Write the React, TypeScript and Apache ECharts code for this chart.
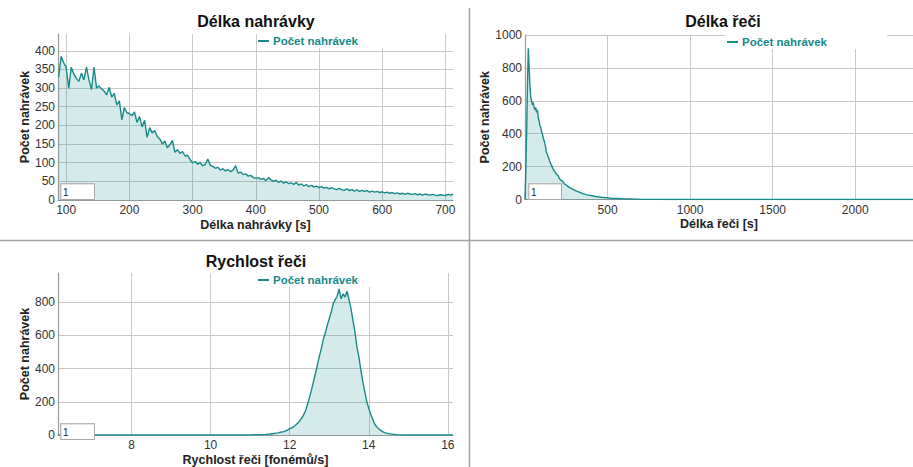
import React, { useEffect, useRef } from "react";
import * as echarts from "echarts";

// ---------- data ----------
const seriesName = "Počet nahrávek";
const titles = ["Délka nahrávky", "Délka řeči", "Rychlost řeči"];
const xNames = ["Délka nahrávky [s]", "Délka řeči [s]", "Rychlost řeči [fonémů/s]"];
const yName = "Počet nahrávek";

// Chart 1: recording length histogram, bins start at 88 s, 4 s wide
const recBinStart = 88;
const recBinWidth = 4;
const recCounts = [
  330, 385, 368, 355, 300, 356, 338, 326, 318, 340,
  322, 356, 322, 296, 356, 300, 306, 298, 292, 282,
  302, 276, 286, 255, 266, 215, 248, 234, 232, 226,
  236, 208, 224, 196, 214, 168, 194, 180, 186, 170,
  164, 150, 158, 140, 148, 160, 128, 135, 125, 130,
  118, 120, 108, 100, 103, 96, 100, 92, 95, 110,
  93, 90, 85, 88, 80, 84, 78, 82, 76, 80,
  92, 72, 75, 68, 70, 64, 66, 60, 58, 60,
  55, 58, 52, 60, 54, 50, 53, 47, 51, 45,
  49, 44, 46, 42, 47, 40, 43, 38, 41, 36,
  39, 35, 37, 33, 36, 32, 34, 30, 33, 30,
  28, 31, 28, 26, 30, 25, 28, 24, 27, 23,
  26, 23, 25, 21, 24, 21, 23, 20, 22, 19,
  21, 18, 20, 17, 19, 16, 18, 15, 18, 16,
  15, 17, 14, 16, 13, 16, 14, 13, 15, 13,
  12, 14, 13, 12, 15, 13, 16,
];

// Chart 2: speech length
const speechX = [
  0, 5, 10, 15, 20, 25, 30, 35, 40, 45, 50, 55, 60, 65, 70, 75, 80, 85, 90, 95,
  100, 105, 110, 115, 120, 125, 130, 135, 140, 145, 150, 160, 170, 180, 190, 200,
  210, 220, 230, 240, 250, 260, 270, 280, 290, 300, 310, 320, 330, 340, 350, 360,
  370, 380, 390, 400, 420, 440, 460, 480, 500, 520, 540, 560, 580, 600, 620, 640,
  660, 680, 700, 750, 800, 850, 2350,
];
const speechY = [
  0, 180, 420, 700, 920, 800, 690, 620, 600, 575, 590, 560, 545, 560, 530, 545, 500, 480, 450, 440,
  415, 400, 375, 360, 340, 320, 285, 275, 260, 248, 230, 210, 185, 170, 155, 146,
  125, 116, 108, 94, 88, 80, 72, 67, 62, 57, 52, 48, 44, 40, 36, 33,
  30, 28, 25, 24, 20, 17, 14, 12, 10, 8, 7, 6, 5, 4, 3, 3,
  2, 2, 1, 1, 0.5, 0, 0,
];

// Chart 3: speech rate
const rateX = [
  6.15, 11.0, 11.2, 11.4, 11.5, 11.6, 11.7, 11.8, 11.85, 11.9, 11.95, 12.0, 12.05, 12.1,
  12.15, 12.2, 12.25, 12.3, 12.35, 12.4, 12.45, 12.5, 12.55, 12.6, 12.65, 12.7, 12.75,
  12.8, 12.85, 12.9, 12.95, 13.0, 13.05, 13.1, 13.15, 13.2, 13.25, 13.3, 13.35, 13.4,
  13.45, 13.5, 13.55, 13.6, 13.65, 13.7, 13.75, 13.8, 13.85, 13.9, 13.95, 14.0, 14.05,
  14.1, 14.15, 14.2, 14.25, 14.3, 14.35, 14.4, 14.5, 14.6, 14.7, 14.8, 14.9, 16.13,
];
const rateY = [
  0, 0, 2, 4, 6, 9, 13, 18, 20, 25, 30, 38, 42, 50,
  60, 70, 85, 100, 120, 145, 185, 225, 270, 320, 370, 420, 475,
  520, 575, 615, 660, 700, 740, 790, 815, 835, 880, 820, 850, 830,
  865, 815, 760, 690, 620, 530, 470, 390, 320, 260, 200, 160, 125,
  95, 65, 50, 38, 28, 20, 14, 8, 5, 2, 1, 0, 0,
];

const xTicks = [
  [100, 200, 300, 400, 500, 600, 700],
  [500, 1000, 1500, 2000],
  [8, 10, 12, 14, 16],
];
const yTicks = [
  [0, 50, 100, 150, 200, 250, 300, 350, 400],
  [0, 200, 400, 600, 800, 1000],
  [0, 200, 400, 600, 800],
];
const xRanges = [[87, 712], [0, 2350], [6.14, 16.13]];
const yRanges = [[0, 445], [0, 1000], [0, 975]];
const boxLabel = "1";

// ---------- styling ----------
const TEAL = "#178a89";
const FILL = "rgba(23,138,137,0.18)";
const FONT = '"Liberation Sans", Arial, sans-serif';

export default function App() {
  const ref = useRef<HTMLDivElement>(null);

  useEffect(() => {
    if (!ref.current) return;
    const chart = echarts.init(ref.current, undefined, { renderer: "svg" });

    const recData = recCounts.map((v, i) => [recBinStart + i * recBinWidth, v]);
    const speechData = speechX.map((x, i) => [x, speechY[i]]);
    const rateData = rateX.map((x, i) => [x, rateY[i]]);
    const datasets = [recData, speechData, rateData];

    const grids = [
      { left: 58, top: 34, width: 395, height: 166 },
      { left: 525, top: 35, width: 388, height: 164.5 },
      { left: 58, top: 273, width: 395, height: 166.3 },
    ];

    const plain = (v: number) => String(v);

    const xAxes = grids.map((_, i) => ({
      type: "value",
      gridIndex: i,
      min: xRanges[i][0],
      max: xRanges[i][1],
      name: xNames[i],
      nameLocation: "middle",
      nameGap: 18,
      nameTextStyle: { fontWeight: "bold", fontSize: 12.5, color: "#222", fontFamily: FONT },
      axisLine: { show: true, onZero: false, lineStyle: { color: "#8f9a9a", width: 1.2 } },
      axisTick: { show: false, customValues: xTicks[i] },
      axisLabel: { customValues: xTicks[i], formatter: plain, fontSize: 12, color: "#333", margin: 4, fontFamily: FONT },
      splitLine: { show: true, lineStyle: { color: "#c8c8c8", width: 1 } },
    }));

    const yAxes = grids.map((_, i) => ({
      type: "value",
      gridIndex: i,
      min: yRanges[i][0],
      max: yRanges[i][1],
      name: yName,
      nameLocation: "middle",
      nameGap: 27,
      nameTextStyle: { fontWeight: "bold", fontSize: 12.5, color: "#222", fontFamily: FONT },
      axisLine: { show: true, onZero: false, lineStyle: { color: "#9a9a9a", width: 1.2 } },
      axisTick: { show: false, customValues: yTicks[i] },
      axisLabel: { customValues: yTicks[i], formatter: plain, fontSize: 12, color: "#333", margin: 3, fontFamily: FONT },
      splitLine: { show: true, lineStyle: { color: "#c8c8c8", width: 1 } },
    }));

    const series = datasets.map((d, i) => ({
      type: "line",
      name: seriesName,
      xAxisIndex: i,
      yAxisIndex: i,
      data: d,
      showSymbol: false,
      symbol: "none",
      lineStyle: { color: TEAL, width: 1.4 },
      itemStyle: { color: TEAL },
      areaStyle: { color: FILL, opacity: 1 },
      z: 2,
    }));

    const legendPos = [
      { left: 257, top: 34 },
      { left: 726, top: 35 },
      { left: 257, top: 273 },
    ];
    const legends = legendPos.map((p) => ({
      ...p,
      data: [seriesName],
      icon: "rect",
      itemWidth: 11,
      itemHeight: 2,
      backgroundColor: "#ffffff",
      padding: [1, 60, 1, 1],
      selectedMode: false,
      textStyle: { color: TEAL, fontWeight: "bold", fontSize: 11.5, fontFamily: FONT, padding: [0, 0, 0, -1] },
    }));

    const titlePos = [
      [256, 21],
      [723, 21],
      [256, 261],
    ];
    const titleEls = titlePos.map((p, i) => ({
      type: "text",
      x: p[0],
      y: p[1],
      z: 100,
      style: {
        text: titles[i],
        font: `bold 16px ${FONT}`,
        fill: "#111",
        align: "center",
        verticalAlign: "middle",
        textAlign: "center",
        textVerticalAlign: "middle",
      },
    }));

    const boxPos = [
      [60, 183, 34],
      [528, 183, 33],
      [60, 423, 34],
    ];
    const boxEls: any[] = [];
    boxPos.forEach((b) => {
      boxEls.push({
        type: "rect",
        z: 100,
        shape: { x: b[0] + 0.5, y: b[1] + 0.5, width: b[2], height: 16 },
        style: { fill: "#ffffff", stroke: "#a8a8a8", lineWidth: 1 },
      });
      boxEls.push({
        type: "polyline",
        z: 101,
        shape: { points: [[b[0] + 1, b[1] + 16], [b[0] + 1, b[1] + 1], [b[0] + b[2], b[1] + 1]] },
        style: { stroke: "#c8c8c8", lineWidth: 1, fill: null },
      });
      boxEls.push({
        type: "text",
        z: 102,
        x: b[0] + 3,
        y: b[1] + 9,
        style: {
          text: boxLabel,
          font: `10px ${FONT}`,
          fill: "#222",
          align: "left",
          verticalAlign: "middle",
          textAlign: "left",
          textVerticalAlign: "middle",
        },
      });
    });

    const sepEls = [
      {
        type: "line",
        z: 100,
        shape: { x1: 469.5, y1: 8, x2: 469.5, y2: 467 },
        style: { stroke: "#a3a3a3", lineWidth: 1.6 },
      },
      {
        type: "line",
        z: 100,
        shape: { x1: 0, y1: 240.5, x2: 913, y2: 240.5 },
        style: { stroke: "#a3a3a3", lineWidth: 1.6 },
      },
    ];

    chart.setOption({
      animation: false,
      backgroundColor: "#ffffff",
      textStyle: { fontFamily: FONT },
      grid: grids,
      xAxis: xAxes,
      yAxis: yAxes,
      legend: legends,
      series,
      graphic: { elements: [...titleEls, ...boxEls, ...sepEls] },
    });

    return () => {
      chart.dispose();
    };
  }, []);

  return (
    <div
      ref={ref}
      style={{ position: "fixed", left: 0, top: 0, width: 913, height: 467, background: "#fff" }}
    />
  );
}
